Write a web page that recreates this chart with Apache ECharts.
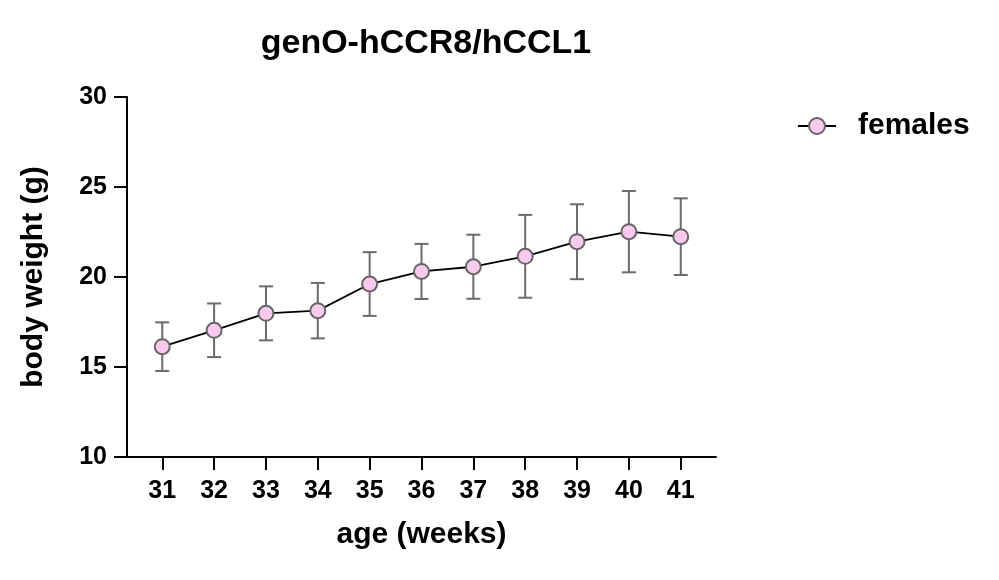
<!DOCTYPE html>
<html>
<head>
<meta charset="utf-8">
<script src="https://cdn.jsdelivr.net/npm/echarts@6/dist/echarts.min.js"></script>
<style>html,body{margin:0;padding:0;background:#fff}#c{width:999px;height:580px}</style>
</head>
<body>
<div id="c"></div>
<script>
const ages = [31, 32, 33, 34, 35, 36, 37, 38, 39, 40, 41];
const meanWeight = [16.13, 17.04, 17.98, 18.13, 19.61, 20.31, 20.57, 21.15, 21.96, 22.52, 22.24];
const sdWeight = [1.35, 1.49, 1.50, 1.54, 1.77, 1.53, 1.78, 2.30, 2.08, 2.26, 2.13];
const yTicks = [10, 15, 20, 25, 30];

const FONT = '"Liberation Sans", Arial, sans-serif';
const points = ages.map((a, i) => [a, meanWeight[i]]);
const errs = ages.map((a, i) => [a, meanWeight[i] - sdWeight[i], meanWeight[i] + sdWeight[i]]);

const chart = echarts.init(document.getElementById('c'));
chart.setOption({
  animation: false,
  title: {
    text: 'genO-hCCR8/hCCL1',
    left: 421, top: 22, textAlign: 'center',
    textStyle: {fontFamily: FONT, fontWeight: 'bold', fontSize: 34, color: '#000'}
  },
  legend: {
    left: 797, top: 111, padding: 0,
    itemWidth: 38, itemHeight: 20,
    data: ['females'],
    textStyle: {fontFamily: FONT, fontWeight: 'bold', fontSize: 30, color: '#000', padding: [0, 0, 0, 17]}
  },
  grid: {left: 127, right: 283, top: 97, bottom: 123, containLabel: false},
  xAxis: {
    type: 'value', min: 30.32, max: 41.68,
    name: 'age (weeks)', nameLocation: 'middle', nameGap: 63,
    nameTextStyle: {fontFamily: FONT, fontWeight: 'bold', fontSize: 30, color: '#000'},
    axisLine: {lineStyle: {color: '#000', width: 2}},
    axisTick: {show: true, length: 13, lineStyle: {color: '#000', width: 2}, customValues: ages},
    axisLabel: {fontFamily: FONT, fontWeight: 'bold', fontSize: 25, color: '#000', margin: 22, customValues: ages},
    splitLine: {show: false}
  },
  yAxis: {
    type: 'value', min: 10, max: 30, interval: 5,
    name: 'body weight (g)', nameLocation: 'middle', nameGap: 78, nameRotate: 90,
    nameTextStyle: {fontFamily: FONT, fontWeight: 'bold', fontSize: 30, color: '#000'},
    axisLine: {show: true, lineStyle: {color: '#000', width: 2}},
    axisTick: {show: true, length: 13, lineStyle: {color: '#000', width: 2}, customValues: yTicks},
    axisLabel: {fontFamily: FONT, fontWeight: 'bold', fontSize: 25, color: '#000', margin: 20, customValues: yTicks},
    splitLine: {show: false}
  },
  series: [
    {
      type: 'custom',
      name: 'err',
      z: 1,
      silent: true,
      data: errs,
      encode: {x: 0, y: [1, 2]},
      renderItem: function (params, api) {
        const x = api.value(0);
        const lo = api.coord([x, api.value(1)]);
        const hi = api.coord([x, api.value(2)]);
        const hw = 7;
        const style = {stroke: '#6b6b6b', lineWidth: 2, fill: 'none'};
        return {
          type: 'group',
          children: [
            {type: 'line', shape: {x1: lo[0], y1: lo[1], x2: hi[0], y2: hi[1]}, style: style},
            {type: 'line', shape: {x1: lo[0] - hw, y1: lo[1], x2: lo[0] + hw, y2: lo[1]}, style: style},
            {type: 'line', shape: {x1: hi[0] - hw, y1: hi[1], x2: hi[0] + hw, y2: hi[1]}, style: style}
          ]
        };
      }
    },
    {
      type: 'line',
      name: 'females',
      z: 3,
      data: points,
      symbol: 'circle',
      symbolSize: 15,
      showAllSymbol: true,
      lineStyle: {color: '#000', width: 1.8},
      itemStyle: {color: '#f9caee', borderColor: '#666666', borderWidth: 2}
    }
  ]
});
</script>
</body>
</html>
